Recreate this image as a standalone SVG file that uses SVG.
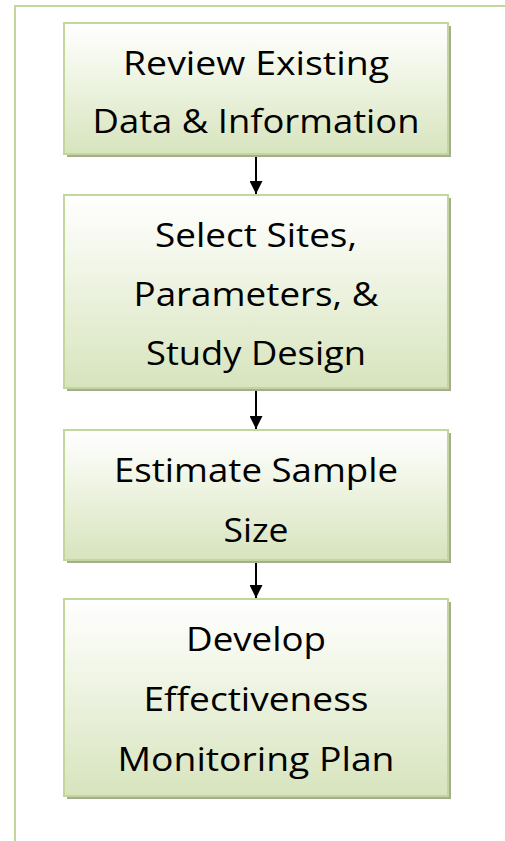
<svg xmlns="http://www.w3.org/2000/svg" width="505" height="841" viewBox="0 0 505 841">
<defs>
<linearGradient id="g" x1="0" y1="0" x2="0" y2="1">
<stop offset="0" stop-color="#ffffff"/>
<stop offset="0.25" stop-color="#f6f9ef"/>
<stop offset="1" stop-color="#d7e4bd"/>
</linearGradient>
<marker id="ah" viewBox="0 0 10 10" refX="10" refY="5" markerWidth="13" markerHeight="13" markerUnits="userSpaceOnUse" orient="auto">
<path d="M0,0 L10,5 L0,10 z" fill="#000"/>
</marker>
<style>
.box{fill:url(#g);stroke:#c3d69b;stroke-width:2}
.sh{fill:#a6ac90}
.t{font-family:"Open Sans","Noto Sans",sans-serif;font-size:32px;fill:#000;text-anchor:middle}
.c{stroke:#000;stroke-width:2;fill:none;marker-end:url(#ah)}
</style>
</defs>
<rect width="505" height="841" fill="#fff"/>
<path d="M15,841 V6 H505" fill="none" stroke="#c3d69b" stroke-width="2"/>
<g id="connectors">
<line class="c" x1="256" y1="155" x2="256" y2="194"/>
<line class="c" x1="256" y1="389" x2="256" y2="429"/>
<line class="c" x1="256" y1="561" x2="256" y2="598"/>
</g>
<g id="n1">
<rect class="sh" x="67" y="26" width="384" height="131"/>
<rect class="box" x="64" y="23" width="384" height="131"/>
<text class="t" x="256" y="75" textLength="266" lengthAdjust="spacingAndGlyphs">Review Existing</text>
<text class="t" x="256" y="133" textLength="327" lengthAdjust="spacingAndGlyphs">Data &amp; Information</text>
</g>
<g id="n2">
<rect class="sh" x="67" y="198" width="384" height="193"/>
<rect class="box" x="64" y="195" width="384" height="193"/>
<text class="t" x="256" y="247" textLength="202" lengthAdjust="spacingAndGlyphs">Select Sites,</text>
<text class="t" x="256" y="306" textLength="245" lengthAdjust="spacingAndGlyphs">Parameters, &amp;</text>
<text class="t" x="256" y="365" textLength="220" lengthAdjust="spacingAndGlyphs">Study Design</text>
</g>
<g id="n3">
<rect class="sh" x="67" y="433" width="384" height="130"/>
<rect class="box" x="64" y="430" width="384" height="130"/>
<text class="t" x="256" y="482" textLength="284" lengthAdjust="spacingAndGlyphs">Estimate Sample</text>
<text class="t" x="256" y="542" textLength="65" lengthAdjust="spacingAndGlyphs">Size</text>
</g>
<g id="n4">
<rect class="sh" x="67" y="602" width="384" height="197"/>
<rect class="box" x="64" y="599" width="384" height="197"/>
<text class="t" x="256" y="651" textLength="140" lengthAdjust="spacingAndGlyphs">Develop</text>
<text class="t" x="256" y="711" textLength="225" lengthAdjust="spacingAndGlyphs">Effectiveness</text>
<text class="t" x="256" y="771" textLength="277" lengthAdjust="spacingAndGlyphs">Monitoring Plan</text>
</g>
</svg>
